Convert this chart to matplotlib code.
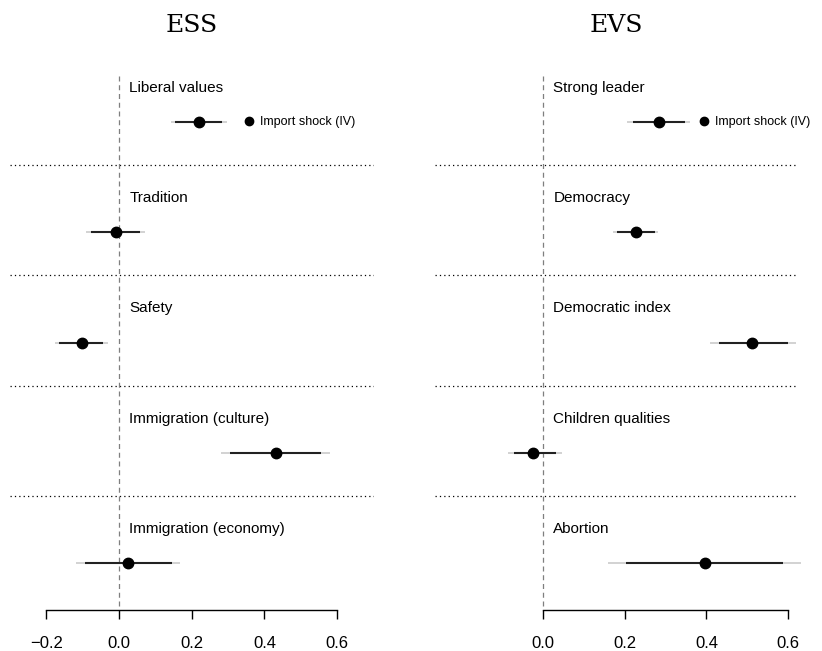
import numpy as np
import matplotlib.pyplot as plt

plt.rcParams['font.family'] = ['Liberation Sans', 'DejaVu Sans']

# ESS panel
ess_labels = ["Liberal values", "Tradition", "Safety",
              "Immigration (culture)", "Immigration (economy)"]
ess_est = [0.220, -0.008, -0.102, 0.432, 0.025]
ess_lo90 = [0.154, -0.077, -0.165, 0.305, -0.094]
ess_hi90 = [0.283, 0.058, -0.044, 0.555, 0.146]
ess_lo95 = [0.143, -0.091, -0.176, 0.280, -0.118]
ess_hi95 = [0.297, 0.072, -0.030, 0.580, 0.168]

# EVS panel
evs_labels = ["Strong leader", "Democracy", "Democratic index",
              "Children qualities", "Abortion"]
evs_est = [0.284, 0.228, 0.512, -0.024, 0.397]
evs_lo90 = [0.220, 0.181, 0.430, -0.070, 0.203]
evs_hi90 = [0.348, 0.274, 0.600, 0.032, 0.588]
evs_lo95 = [0.206, 0.171, 0.410, -0.085, 0.159]
evs_hi95 = [0.360, 0.282, 0.620, 0.047, 0.632]

xticks = [-0.2, 0.0, 0.2, 0.4, 0.6]
legend_label = "Import shock (IV)"

W, H = 822, 651
fig = plt.figure(figsize=(W / 100, H / 100), dpi=100)


def px_axes(x0, x1, y0, y1):
    return fig.add_axes([x0 / W, 1 - y1 / H, (x1 - x0) / W, (y1 - y0) / H])


def panel(ax, title, labels, est, lo90, hi90, lo95, hi95, ticks, leg_x):
    n = len(labels)
    rows = np.arange(n)
    ypt = rows + 0.61
    ylab = rows + 0.30
    ax.set_ylim(n, 0)
    for i in range(1, n):
        ax.axhline(i, ls=(0, (1, 2.5)), color='black', lw=0.9)
    ax.plot([0, 0], [0.19, n + 0.03], ls=(0, (4, 3)), color='#7f7f7f',
            lw=0.9, clip_on=False)
    ax.hlines(ypt, lo95, hi95, color='#cfcfcf', lw=1.3, clip_on=False)
    ax.hlines(ypt, lo90, hi90, color='#222222', lw=1.5, clip_on=False)
    ax.plot(est, ypt, 'o', color='black', ms=7.5, zorder=5, clip_on=False,
            label=legend_label)
    for lab, y in zip(labels, ylab):
        ax.annotate(lab, xy=(0, y), xytext=(7.5, 0), textcoords='offset points',
                    fontsize=11, va='center', ha='left')
    ax.legend(loc='center left', bbox_to_anchor=(leg_x, 1 - 0.61 / n),
              frameon=False, fontsize=9, handlelength=0.6,
              handletextpad=0.6, borderpad=0, borderaxespad=0,
              markerscale=0.8)
    for sp in ['top', 'left', 'right']:
        ax.spines[sp].set_visible(False)
    ax.spines['bottom'].set_bounds(ticks[0], ticks[-1])
    ax.spines['bottom'].set_position(('outward', 3))
    ax.spines['bottom'].set_linewidth(1.0)
    ax.set_xticks(ticks)
    ax.set_xticklabels([f"{t:.1f}".replace('-', '\u2212') for t in ticks])
    ax.tick_params(axis='x', length=6.5, width=1.0, labelsize=12, pad=12)
    ax.set_yticks([])
    ax.patch.set_alpha(0)
    bb = ax.get_position()
    fig.text(bb.x0 + bb.width / 2, 1 - 32 / H, title, ha='center',
             va='baseline', fontsize=18, family='DejaVu Serif')


axl = px_axes(10, 373.5, 55, 606)
axl.set_xlim(-0.3, 0.7)
panel(axl, "ESS", ess_labels, ess_est, ess_lo90, ess_hi90, ess_lo95, ess_hi95,
      xticks, (249 - 10 - 4) / 363.5)

axr = px_axes(435, 797, 55, 606)
axr.set_xlim(-108 / 408.5, 254 / 408.5)
panel(axr, "EVS", evs_labels, evs_est, evs_lo90, evs_hi90, evs_lo95, evs_hi95,
      xticks[1:], (704 - 435 - 4) / 362)

fig.savefig('out.png', dpi=100)
